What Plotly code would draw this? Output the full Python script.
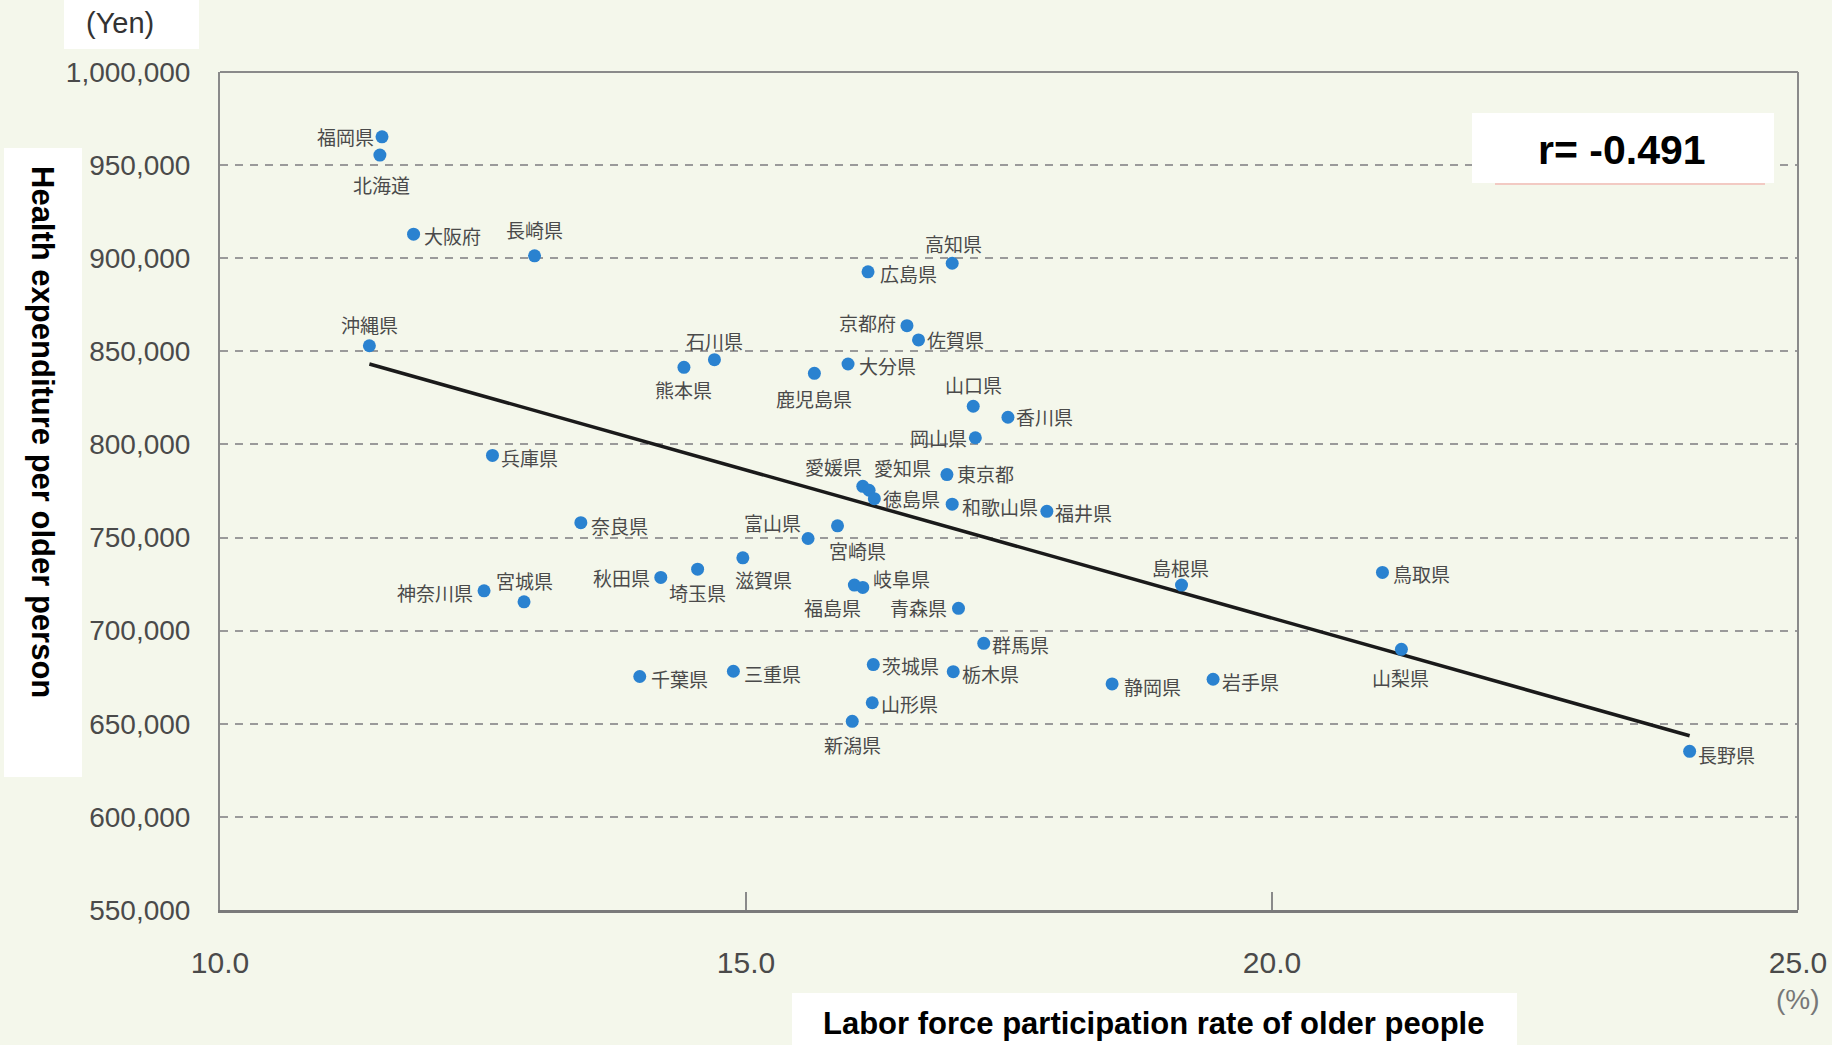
import plotly.graph_objects as go

# ---------------- data ----------------
prefectures = ["福岡県", "北海道", "大阪府", "長崎県", "沖縄県", "広島県", "高知県", "京都府",
               "佐賀県", "石川県", "熊本県", "大分県", "鹿児島県", "山口県", "香川県", "岡山県",
               "兵庫県", "東京都", "愛媛県", "愛知県", "徳島県", "和歌山県", "福井県", "奈良県",
               "富山県", "宮崎県", "秋田県", "埼玉県", "滋賀県", "福島県", "岐阜県", "青森県",
               "神奈川県", "宮城県", "千葉県", "三重県", "茨城県", "栃木県", "群馬県", "山形県",
               "新潟県", "静岡県", "岩手県", "島根県", "鳥取県", "山梨県", "長野県"]
labor_rate = [11.54, 11.52, 11.84, 12.99, 11.42, 16.16, 16.96, 16.53,
              16.64, 14.70, 14.41, 15.97, 15.65, 17.16, 17.49, 17.18,
              12.59, 16.91, 16.11, 16.17, 16.22, 16.96, 17.86, 13.43,
              15.59, 15.87, 14.19, 14.54, 14.97, 16.03, 16.11, 17.02,
              12.51, 12.89, 13.99, 14.88, 16.21, 16.97, 17.26, 16.20,
              16.01, 18.48, 19.44, 19.14, 21.05, 21.23, 23.97]
health_exp = [965200, 955400, 912900, 901300, 853000, 892700, 897300, 863800,
              856100, 845500, 841400, 843200, 838200, 820500, 814600, 803600,
              794100, 783800, 777500, 775400, 770900, 767900, 764100, 758000,
              749500, 756300, 728600, 733000, 739100, 724500, 723200, 712000,
              721400, 715500, 675400, 678200, 681800, 678000, 693200, 661300,
              651300, 671400, 673900, 724500, 731300, 690000, 635200]

trend_x = [11.42, 23.97]
trend_y = [843200, 643600]

x_ticks = [10, 15, 20, 25]
y_ticks = [550000, 600000, 650000, 700000, 750000, 800000, 850000, 900000, 950000, 1000000]
r_text = "r= -0.491"

# label offsets (pixels, dx right, dy down) -- styling only
label_offsets = [(-37, 0), (2, 29), (39, 1), (0, -26), (0, -21), (40, 2), (1, -20), (-39, -3),
                 (37, 0), (0, -19), (0, 22), (39, 1), (0, 25), (0, -22), (37, -1), (-37, 0),
                 (37, 2), (39, -1), (-29, -20), (33, -23), (37, 0), (48, 2), (37, 1), (39, 3),
                 (-36, -16), (20, 25), (-39, 0), (0, 23), (21, 22), (-22, 22), (39, -9), (-40, -1),
                 (-49, 2), (0, -21), (40, 2), (39, 2), (37, 1), (37, 2), (37, 1), (37, 1),
                 (0, 23), (40, 3), (37, 2), (-1, -18), (39, 1), (-1, 28), (37, 3)]

# ---------------- layout geometry ----------------
W, H = 1832, 1045
L, R, T, B = 220, 1798, 72, 910


def px(x):
    return (x - L) / (R - L)


def py(y):
    return (B - y) / (B - T)


BG = "rgb(244,247,235)"
SANS = "Liberation Sans, Arial, Helvetica, sans-serif"
CJK = "Noto Sans CJK JP, Noto Sans CJK SC, sans-serif"

fig = go.Figure()

fig.add_trace(go.Scatter(
    x=trend_x, y=trend_y, mode="lines",
    line=dict(color="#1a1a1a", width=3.5), hoverinfo="skip", showlegend=False))

fig.add_trace(go.Scatter(
    x=labor_rate, y=health_exp, mode="markers", text=prefectures,
    marker=dict(color="#2a82d0", size=13), showlegend=False,
    hovertemplate="%{text}<br>%{x}<br>%{y:,}<extra></extra>"))

annotations = []
for name, xv, yv, (dx, dy) in zip(prefectures, labor_rate, health_exp, label_offsets):
    annotations.append(dict(
        x=xv, y=yv, xref="x", yref="y", text=name, showarrow=False,
        xshift=dx, yshift=-dy, xanchor="center", yanchor="middle",
        font=dict(family=CJK, size=19, color="#4a4a4a")))

annotations += [
    dict(x=px(120), y=py(23), xref="paper", yref="paper", text="(Yen)", showarrow=False,
         xanchor="center", yanchor="middle", font=dict(family=SANS, size=29, color="#333333")),
    dict(x=px(43), y=py(432), xref="paper", yref="paper", text="<b>Health expenditure per older person</b>",
         showarrow=False, textangle=90, xanchor="center", yanchor="middle",
         font=dict(family=SANS, size=31, color="#000000")),
    dict(x=px(1153), y=py(1023), xref="paper", yref="paper",
         text="<b>Labor force participation rate of older people</b>", showarrow=False,
         xanchor="center", yanchor="middle", font=dict(family=SANS, size=31, color="#000000")),
    dict(x=px(1622), y=py(150), xref="paper", yref="paper", text="<b>" + r_text + "</b>",
         showarrow=False, xanchor="center", yanchor="middle",
         font=dict(family=SANS, size=41, color="#000000")),
    dict(x=px(1798), y=py(1000), xref="paper", yref="paper", text="(%)", showarrow=False,
         xanchor="center", yanchor="middle", font=dict(family=SANS, size=28, color="#777777")),
]

shapes = [
    # white boxes
    dict(type="rect", xref="paper", yref="paper", x0=px(64), x1=px(199), y0=py(0), y1=py(49),
         fillcolor="white", line=dict(width=0), layer="above"),
    dict(type="rect", xref="paper", yref="paper", x0=px(4), x1=px(82), y0=py(148), y1=py(777),
         fillcolor="white", line=dict(width=0), layer="above"),
    dict(type="rect", xref="paper", yref="paper", x0=px(792), x1=px(1517), y0=py(993), y1=py(1045),
         fillcolor="white", line=dict(width=0), layer="above"),
    dict(type="rect", xref="paper", yref="paper", x0=px(1472), x1=px(1774), y0=py(113), y1=py(183),
         fillcolor="white", line=dict(width=0), layer="above"),
    dict(type="line", xref="paper", yref="paper", x0=px(1495), x1=px(1765), y0=py(184), y1=py(184),
         line=dict(color="rgba(240,140,140,0.55)", width=1.5), layer="above"),
    # top and right borders
    dict(type="line", xref="paper", yref="paper", x0=0, x1=1, y0=1, y1=1,
         line=dict(color="#8a8a8a", width=2), layer="above"),
    dict(type="line", xref="paper", yref="paper", x0=1, x1=1, y0=0, y1=1,
         line=dict(color="#8a8a8a", width=2), layer="above"),
]

fig.update_layout(
    width=W, height=H,
    margin=dict(l=L, r=W - R, t=T, b=H - B, pad=0, autoexpand=False),
    paper_bgcolor=BG, plot_bgcolor=BG,
    showlegend=False,
    annotations=annotations,
    shapes=shapes,
    xaxis=dict(
        range=[10, 25], tickvals=x_ticks, tickformat=".1f", automargin=False,
        showgrid=False, zeroline=False,
        showline=True, linecolor="#7a7a7a", linewidth=3,
        ticks="inside", ticklen=18, tickwidth=1.5, tickcolor="#8a8a8a",
        tickfont=dict(family=SANS, size=30, color="#4a4a4a"),
        ticklabelstandoff=24,
    ),
    yaxis=dict(
        range=[550000, 1000000], tickvals=y_ticks, tickformat=",", automargin=False,
        showgrid=True, gridcolor="#9a9a9a", gridwidth=2, griddash="8px,7px",
        zeroline=False,
        showline=True, linecolor="#8a8a8a", linewidth=2,
        ticks="", tickfont=dict(family=SANS, size=28, color="#4a4a4a"),
        ticklabelstandoff=22,
    ),
    font=dict(family=SANS),
)

fig.write_html(
    "out.html",
    config={"displayModeBar": False},
    post_script="document.body.style.margin='0';document.body.style.overflow='hidden';"
                "document.body.style.background='rgb(244,247,235)';",
)
